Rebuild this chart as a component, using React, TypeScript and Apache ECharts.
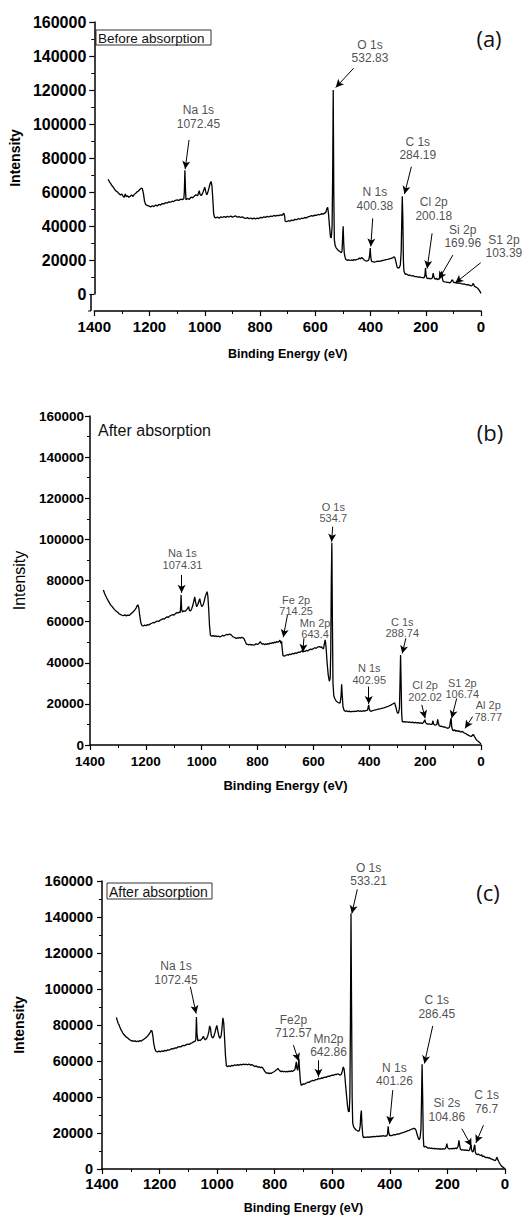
import React, { useEffect, useRef } from "react";
import * as echarts from "echarts";

// ---------- DATA ----------
const xTicks = [0, 200, 400, 600, 800, 1000, 1200, 1400];
const yTicks = [0, 20000, 40000, 60000, 80000, 100000, 120000, 140000, 160000];

// (a) Before absorption: [binding energy (eV), intensity]
const spectrumA: number[][] = [
  [1350, 67500], [1345, 66000], [1340, 64800], [1335, 63500], [1330, 62600], [1325, 61200], [1320, 60500], [1315, 59800],
  [1310, 59000], [1305, 58200], [1300, 58800], [1296, 57600], [1292, 56800], [1288, 58900], [1284, 57200], [1280, 57900],
  [1275, 56900], [1270, 57500], [1265, 58200], [1260, 57400], [1255, 58600], [1250, 59300], [1245, 60100], [1240, 60600],
  [1235, 61500], [1230, 62300], [1226, 62000], [1222, 59000], [1218, 54500], [1214, 52600], [1208, 52100], [1202, 51700],
  [1196, 51200], [1190, 51900], [1184, 51400], [1178, 52300], [1172, 51800], [1166, 52700], [1160, 52300], [1154, 53200],
  [1148, 53000], [1142, 53700], [1136, 53500], [1130, 54200], [1124, 54000], [1118, 54600], [1112, 54400], [1106, 55100],
  [1100, 55400], [1094, 55000], [1088, 55800], [1082, 55500], [1076, 55900], [1074, 60000], [1072, 72800], [1070, 62000],
  [1068, 55400], [1062, 56200], [1056, 55700], [1050, 57000], [1044, 56600], [1038, 57600], [1032, 58300], [1026, 57800],
  [1022, 59800], [1020, 60800], [1017, 58500], [1013, 57900], [1008, 59200], [1004, 61000], [1000, 62800], [997, 60500],
  [993, 58300], [989, 59800], [985, 62200], [981, 64800], [977, 66200], [974, 63500], [971, 56000], [968, 47500],
  [965, 45200], [960, 44800], [954, 45300], [948, 44600], [942, 45400], [936, 45000], [930, 45600], [924, 45100],
  [918, 45700], [912, 45300], [906, 45800], [900, 45200], [894, 45600], [888, 45900], [882, 45200], [876, 45500],
  [870, 45000], [864, 45400], [858, 44800], [852, 44400], [846, 44900], [840, 44300], [834, 44700], [828, 44200],
  [822, 44600], [816, 44100], [810, 44700], [804, 44400], [798, 45100], [792, 44800], [786, 45400], [780, 45100],
  [774, 45700], [768, 45300], [762, 45800], [756, 45600], [750, 46200], [744, 45800], [738, 46300], [732, 46100],
  [726, 46600], [720, 46300], [714, 47600], [711, 46000], [709, 42800], [704, 42500], [698, 43100], [692, 42800],
  [686, 43500], [680, 43200], [674, 43900], [668, 43700], [662, 44300], [656, 44000], [650, 44600], [644, 44400],
  [638, 45000], [632, 44800], [626, 45400], [620, 45600], [614, 46100], [608, 45800], [602, 46400], [596, 46200],
  [590, 46800], [584, 46600], [578, 47200], [572, 47000], [566, 47600], [562, 48000], [558, 50200], [555, 51000],
  [552, 47000], [548, 39000], [545, 33500], [542, 33000], [539, 40000], [537, 70000], [535, 120000], [533, 60000],
  [531, 32000], [528, 28500], [524, 27000], [520, 26200], [515, 25500], [510, 24800], [506, 24300], [503, 25500],
  [501, 33000], [499, 39800], [497, 30000], [495, 24000], [492, 21500], [489, 20300], [485, 19800], [480, 20100],
  [475, 19700], [470, 20000], [465, 19800], [460, 20200], [455, 19900], [450, 20300], [445, 20500], [440, 21200],
  [436, 20600], [432, 21500], [428, 20900], [424, 20200], [420, 19700], [415, 19400], [410, 19600], [406, 20200],
  [403, 23000], [401, 27000], [399, 21500], [396, 19200], [392, 19000], [386, 18800], [380, 19000], [374, 19300],
  [368, 19200], [362, 19500], [356, 19700], [350, 19900], [344, 20200], [338, 20400], [332, 20700], [326, 20900],
  [320, 21300], [316, 21800], [312, 21500], [308, 19000], [304, 16000], [300, 15200], [296, 15500], [292, 17000],
  [289, 25000], [286, 50000], [285, 57500], [283, 45000], [281, 20000], [279, 13500], [276, 12200], [273, 11600],
  [270, 11800], [266, 11300], [262, 11000], [258, 11200], [254, 10800], [250, 10600], [246, 10800], [242, 10400],
  [238, 10200], [234, 10300], [230, 10000], [226, 9900], [222, 10100], [218, 9800], [214, 9600], [210, 9700],
  [206, 9500], [203, 11000], [201, 15200], [199, 11000], [196, 9300], [192, 9100], [188, 9300], [184, 8900],
  [180, 9000], [176, 9500], [173, 12300], [171, 10500], [168, 9000], [164, 8700], [161, 9400], [158, 8400],
  [154, 8800], [150, 9000], [147, 11500], [144, 12600], [142, 13200], [140, 9500], [138, 7800], [135, 7300],
  [130, 7100], [126, 7000], [122, 6900], [118, 6800], [114, 6600], [110, 6800], [106, 8000], [103, 8300],
  [100, 7000], [96, 6700], [92, 6900], [88, 6400], [84, 6600], [80, 6300], [76, 6500], [72, 6100],
  [68, 6000], [64, 5800], [60, 5900], [56, 5600], [52, 5400], [48, 5500], [44, 5300], [40, 5100],
  [36, 4800], [32, 5000], [30, 5800], [28, 6200], [26, 5600], [24, 4600], [20, 4200], [16, 3800],
  [12, 3400], [8, 2600], [5, 1800], [2, 1000], [0, 400],
];

// (b) After absorption
const spectrumB: number[][] = [
  [1352, 75400], [1348, 73800], [1344, 72600], [1340, 71500], [1335, 70200], [1330, 69000], [1325, 67900], [1320, 67200],
  [1315, 66300], [1310, 65600], [1305, 64900], [1300, 64500], [1295, 63700], [1290, 63400], [1285, 63100], [1280, 62900],
  [1275, 63300], [1270, 62800], [1265, 63200], [1260, 63000], [1255, 63600], [1250, 64200], [1245, 64800], [1240, 65600],
  [1235, 66600], [1231, 67900], [1228, 68100], [1225, 66500], [1222, 63000], [1218, 59500], [1214, 58100], [1209, 57900],
  [1204, 58300], [1199, 58000], [1194, 58600], [1189, 58400], [1184, 58900], [1179, 59200], [1174, 59600], [1169, 59400],
  [1164, 60000], [1159, 60300], [1154, 60100], [1149, 60700], [1144, 61000], [1139, 61400], [1134, 61200], [1129, 61900],
  [1124, 62300], [1119, 62100], [1114, 62800], [1109, 63100], [1104, 63400], [1099, 63200], [1094, 63900], [1089, 64400],
  [1084, 64200], [1080, 64700], [1077, 64400], [1075, 68000], [1074, 73000], [1072, 66000], [1069, 64600], [1064, 65300],
  [1059, 65000], [1054, 65800], [1050, 66500], [1047, 67400], [1044, 65500], [1040, 65200], [1036, 66300], [1032, 67800],
  [1028, 70200], [1025, 72000], [1022, 69500], [1018, 67200], [1014, 68300], [1010, 70000], [1007, 71200], [1004, 69000],
  [1000, 67300], [996, 67800], [992, 69500], [988, 71800], [984, 73500], [981, 74600], [978, 72500], [975, 66000],
  [972, 58000], [969, 53500], [965, 52900], [960, 53200], [955, 52800], [950, 53100], [945, 52700], [940, 53000],
  [935, 52600], [930, 52900], [925, 53300], [920, 53000], [915, 53500], [910, 53800], [905, 53600], [900, 54000],
  [896, 53700], [892, 53200], [888, 52600], [884, 52400], [880, 52100], [876, 51800], [872, 52200], [868, 51900],
  [864, 52300], [860, 52000], [856, 52400], [852, 52100], [848, 51600], [844, 50300], [840, 49100], [836, 48900],
  [832, 48700], [828, 49000], [824, 48600], [820, 48900], [815, 48500], [810, 48800], [805, 49200], [800, 48900],
  [795, 49400], [791, 50200], [787, 49600], [783, 49000], [779, 49300], [775, 48800], [771, 49200], [767, 48900],
  [763, 49300], [759, 49100], [755, 49600], [751, 49300], [747, 49800], [743, 49500], [739, 50100], [735, 49700],
  [731, 50400], [727, 49900], [723, 50500], [720, 51000], [717, 49500], [714, 50400], [712, 47000], [709, 43500],
  [705, 43200], [700, 43500], [695, 43900], [690, 43700], [685, 44200], [680, 44000], [675, 44500], [670, 44300],
  [665, 44800], [660, 44600], [655, 45100], [650, 45000], [645, 45400], [641, 45900], [638, 45200], [634, 45700],
  [630, 45500], [625, 46000], [620, 45800], [615, 46300], [610, 46600], [605, 46400], [600, 46900], [595, 47300],
  [590, 47000], [585, 47600], [580, 47900], [576, 47500], [572, 47800], [568, 47200], [564, 46800], [561, 49000],
  [558, 51100], [555, 48000], [551, 40000], [547, 34000], [543, 31000], [540, 32500], [538, 45000], [536, 80000],
  [534, 98400], [532, 60000], [530, 30000], [527, 23800], [523, 22500], [518, 21300], [513, 20800], [508, 20400],
  [504, 20600], [501, 24000], [499, 29500], [497, 24500], [494, 18500], [490, 16800], [486, 16400], [481, 16600],
  [476, 16200], [471, 16500], [466, 16100], [461, 16400], [456, 16200], [451, 16500], [446, 16300], [441, 16700],
  [436, 16400], [431, 16600], [426, 16300], [421, 16700], [416, 16500], [411, 16800], [406, 17000], [404, 18500],
  [402, 19500], [400, 17500], [397, 16600], [393, 16400], [388, 16700], [383, 16900], [378, 17100], [373, 17200],
  [368, 17400], [363, 17600], [358, 17700], [353, 17900], [348, 18100], [343, 18300], [338, 18600], [333, 18800],
  [328, 19100], [323, 19400], [318, 19800], [313, 20200], [309, 20500], [305, 18500], [301, 16200], [298, 15400],
  [295, 15800], [292, 18000], [290, 30000], [288, 43800], [286, 30000], [284, 15000], [282, 11500], [279, 11200],
  [275, 11400], [270, 11100], [265, 11300], [260, 11000], [255, 11200], [250, 10900], [245, 11100], [240, 10800],
  [235, 11000], [230, 10700], [225, 10900], [220, 10600], [215, 10800], [210, 10500], [206, 10900], [203, 11800],
  [201, 12300], [199, 11000], [195, 10400], [191, 10200], [187, 10300], [183, 10100], [179, 10000], [175, 10200],
  [172, 11800], [170, 10200], [166, 9800], [162, 9700], [158, 10000], [155, 12500], [153, 11000], [150, 9400],
  [146, 9100], [142, 9200], [138, 8900], [134, 8700], [130, 8800], [126, 8500], [122, 8300], [118, 8100],
  [115, 8400], [112, 8900], [109, 12000], [107, 13000], [105, 9000], [102, 7200], [99, 7000], [95, 7400],
  [91, 6800], [87, 7000], [83, 6600], [79, 6900], [75, 6500], [71, 6300], [67, 6700], [63, 6100],
  [59, 5800], [55, 5600], [51, 5200], [47, 4900], [43, 4600], [39, 4300], [35, 4200], [31, 4600],
  [28, 5200], [26, 4800], [23, 4000], [20, 3400], [17, 2600], [14, 2200], [10, 1800], [6, 1300],
  [3, 900], [0, 500],
];

// (c) After absorption
const spectrumC: number[][] = [
  [1350, 84200], [1347, 82500], [1344, 81000], [1340, 79800], [1336, 78000], [1332, 76800], [1328, 75600], [1324, 74700],
  [1320, 74000], [1316, 73300], [1312, 73000], [1308, 72400], [1304, 71800], [1300, 71500], [1296, 71000], [1292, 71300],
  [1288, 70800], [1284, 71200], [1280, 70700], [1276, 71100], [1272, 70800], [1268, 71400], [1264, 71000], [1260, 71600],
  [1256, 71900], [1252, 72400], [1248, 72900], [1244, 73500], [1240, 74200], [1236, 75000], [1232, 76000], [1229, 77000],
  [1226, 76500], [1223, 73500], [1220, 69500], [1216, 66500], [1212, 65300], [1207, 65000], [1202, 65500], [1197, 65100],
  [1192, 65600], [1187, 65300], [1182, 65900], [1177, 65600], [1172, 66200], [1167, 66000], [1162, 66500], [1157, 66900],
  [1152, 66700], [1147, 67300], [1142, 67100], [1137, 67700], [1132, 68000], [1127, 67800], [1122, 68400], [1117, 68700],
  [1112, 68500], [1107, 69100], [1102, 69400], [1097, 69200], [1092, 69800], [1087, 70100], [1082, 70600], [1077, 70900],
  [1074, 72000], [1072, 84500], [1070, 75000], [1067, 71200], [1063, 71600], [1059, 71400], [1055, 72000], [1051, 72600],
  [1048, 73800], [1045, 72500], [1041, 71800], [1037, 72300], [1033, 73800], [1029, 76200], [1026, 79500], [1023, 78000],
  [1020, 74000], [1016, 72800], [1012, 73500], [1008, 75500], [1004, 78200], [1001, 79800], [998, 77000], [994, 73800],
  [990, 72600], [986, 74000], [983, 78500], [980, 84000], [977, 81000], [974, 72000], [971, 63000], [968, 57500],
  [964, 56800], [959, 57300], [954, 57000], [949, 57600], [944, 57200], [939, 57900], [934, 57500], [929, 58000],
  [924, 57600], [919, 58100], [914, 57800], [909, 58300], [904, 58000], [899, 58200], [894, 57900], [889, 58300],
  [884, 57700], [879, 58000], [874, 57400], [869, 57000], [864, 57200], [859, 56600], [854, 56800], [849, 56300],
  [844, 56600], [840, 55800], [836, 54600], [832, 53800], [828, 53200], [824, 53400], [820, 53000], [816, 53300],
  [812, 53100], [808, 53600], [804, 53900], [800, 54300], [796, 54800], [792, 55300], [789, 55900], [786, 55200],
  [782, 54500], [778, 54100], [774, 54400], [770, 54000], [766, 54300], [762, 53900], [758, 54200], [754, 54000],
  [750, 54400], [746, 54100], [742, 54500], [738, 54200], [734, 54700], [730, 55200], [727, 57500], [725, 59500],
  [723, 56000], [720, 54800], [718, 58000], [716, 61400], [714, 56000], [711, 49000], [708, 46500], [704, 46900],
  [700, 47300], [696, 47100], [692, 47700], [688, 47900], [684, 48300], [680, 48100], [676, 48700], [672, 48900],
  [668, 49200], [664, 49000], [660, 49500], [656, 49700], [652, 49600], [648, 50500], [645, 50000], [641, 50200],
  [637, 50600], [633, 50400], [629, 50900], [625, 51100], [621, 50900], [617, 51400], [613, 51600], [609, 51500],
  [605, 51900], [601, 52100], [597, 52000], [593, 52400], [589, 52600], [585, 52500], [581, 52900], [577, 52600],
  [573, 52100], [569, 52500], [565, 54500], [562, 56700], [559, 55500], [556, 51000], [553, 45000], [550, 40000],
  [547, 35000], [544, 32000], [541, 31800], [539, 40000], [537, 80000], [535, 142000], [533, 90000], [531, 40000],
  [529, 25500], [526, 23500], [522, 22500], [518, 21800], [514, 21400], [510, 21000], [506, 21300], [503, 24000],
  [501, 30000], [499, 32500], [497, 25000], [494, 18500], [491, 17400], [487, 17700], [483, 17500], [479, 17800],
  [475, 17600], [471, 17900], [467, 17700], [463, 18000], [459, 17800], [455, 18100], [451, 17900], [447, 18200],
  [443, 18000], [439, 18300], [435, 18100], [431, 18400], [427, 18200], [423, 18500], [419, 18300], [415, 18400],
  [411, 18300], [408, 19500], [406, 23700], [404, 20500], [401, 18600], [397, 18700], [393, 18500], [389, 18900],
  [385, 19100], [381, 19000], [377, 19300], [373, 19500], [369, 19400], [365, 19700], [361, 19900], [357, 20100],
  [353, 20300], [349, 20500], [345, 20800], [341, 21000], [337, 21300], [333, 21500], [329, 21800], [325, 22100],
  [321, 22300], [317, 22600], [313, 22400], [309, 21500], [305, 19000], [301, 17000], [298, 16300], [295, 17500],
  [292, 22000], [290, 38000], [288, 58200], [286, 40000], [284, 18000], [282, 12500], [279, 12200], [275, 12600],
  [271, 11900], [267, 11600], [263, 11800], [259, 11400], [255, 11600], [251, 11300], [247, 11500], [243, 11200],
  [239, 11400], [235, 11100], [231, 11300], [227, 11000], [223, 11200], [219, 11100], [215, 11300], [211, 11000],
  [207, 11400], [204, 12500], [202, 14100], [200, 12000], [196, 11300], [192, 11100], [188, 11400], [184, 11200],
  [180, 11500], [176, 11300], [172, 11600], [169, 11200], [166, 11800], [163, 12500], [160, 15900], [158, 13500],
  [155, 11000], [151, 10500], [147, 10700], [143, 10400], [139, 10600], [135, 10300], [131, 10500], [127, 10100],
  [123, 10600], [120, 12500], [118, 13200], [116, 10500], [113, 9400], [110, 9800], [107, 12500], [105, 13500],
  [103, 9500], [100, 8200], [96, 8000], [92, 8300], [88, 7700], [84, 7500], [81, 7900], [78, 6800],
  [74, 7200], [70, 6600], [66, 6300], [62, 6500], [58, 6100], [54, 6300], [50, 5700], [46, 5500],
  [42, 5200], [38, 4900], [34, 4700], [31, 5200], [29, 6500], [27, 6200], [25, 5200], [22, 4200],
  [19, 3300], [16, 2500], [13, 1800], [10, 1300], [6, 900], [3, 500], [0, 200],
];

// Peak annotations: label, label anchor (data coords), arrow start, arrow tip
type Ann = { label: string; text: number[]; from: number[]; to: number[] };
const annotationsA: Ann[] = [
  { label: "Na 1s\n1072.45", text: [1023, 104100], from: [1057, 90600], to: [1071, 73500] },
  { label: "O 1s\n532.83", text: [402, 142600], from: [461, 132800], to: [526, 121500] },
  { label: "N 1s\n400.38", text: [384, 55900], from: [392, 44500], to: [399, 28000] },
  { label: "C 1s\n284.19", text: [229, 85500], from: [252, 74900], to: [277, 58800] },
  { label: "Cl 2p\n200.18", text: [171, 50000], from: [177, 35700], to: [195, 15000] },
  { label: "Si 2p\n169.96", text: [66, 33900], from: [102, 22900], to: [153, 8500] },
  { label: "S1 2p\n103.39", text: [-83, 28000], from: [1, 18400], to: [93, 6500] },
];
const annotationsB: Ann[] = [
  { label: "Na 1s\n1074.31", text: [1069, 90450], from: [1072, 82700], to: [1072, 74000] },
  { label: "Fe 2p\n714.25", text: [662, 67900], from: [693, 63200], to: [708, 52400] },
  { label: "Mn 2p\n643.4", text: [594, 56700], from: [634, 51900], to: [638, 45200] },
  { label: "O 1s\n534.7", text: [529, 113000], from: [531, 106200], to: [535, 98800] },
  { label: "N 1s\n402.95", text: [400, 34500], from: [402, 28400], to: [402, 20000] },
  { label: "C 1s\n288.74", text: [282, 57200], from: [269, 51900], to: [282, 44500] },
  { label: "Cl 2p\n202.02", text: [200, 26300], from: [212, 19500], to: [200, 13000] },
  { label: "S1 2p\n106.74", text: [67, 27400], from: [87, 22700], to: [105, 13000] },
  { label: "Al 2p\n78.77", text: [-26, 16500], from: [30, 13800], to: [57, 8100] },
];
const annotationsC: Ann[] = [
  { label: "Na 1s\n1072.45", text: [1143, 109000], from: [1093, 101200], to: [1073, 86400] },
  { label: "Fe2p\n712.57", text: [735, 79200], from: [735, 68800], to: [717, 60000] },
  { label: "Mn2p\n642.86", text: [613, 68600], from: [648, 60400], to: [648, 51200] },
  { label: "O 1s\n533.21", text: [474, 163700], from: [513, 155400], to: [532, 142000] },
  { label: "N 1s\n401.26", text: [384, 52500], from: [390, 43800], to: [401, 25000] },
  { label: "C 1s\n286.45", text: [237, 90100], from: [251, 79500], to: [280, 58600] },
  { label: "Si 2s\n104.86", text: [202, 32800], from: [150, 22400], to: [116, 12600] },
  { label: "C 1s\n76.7", text: [64, 37300], from: [75, 24300], to: [101, 14500] },
];

const panelTags = ["(a)", "(b)", "(c)"];
const panelNotes = ["Before absorption", "After absorption", "After absorption"];

// ---------- LAYOUT / STYLE ----------
const FONT = "Liberation Sans";
const panels = [
  {
    spectrum: spectrumA, ann: annotationsA,
    grid: { left: 91, right: 42, top: 22, height: 272 },
    yLabel: 16, xLabel: 15, yMargin: 8, xMargin: 8, xOffset: 17,
    yName: { gap: 66, size: 14, weight: "bold" }, xName: { gap: 36, size: 12.5 },
    annSize: 12, annLH: 13.5,
  },
  {
    spectrum: spectrumB, ann: annotationsB,
    grid: { left: 90, right: 42, top: 416, height: 329 },
    yLabel: 13.5, xLabel: 13.5, yMargin: 6, xMargin: 9, xOffset: 0,
    yName: { gap: 63, size: 16, weight: "normal" }, xName: { gap: 34, size: 13 },
    annSize: 11, annLH: 11.5,
  },
  {
    spectrum: spectrumC, ann: annotationsC,
    grid: { left: 102, right: 18, top: 881, height: 288 },
    yLabel: 14.5, xLabel: 15, yMargin: 9, xMargin: 7, xOffset: 0,
    yName: { gap: 76, size: 14, weight: "bold" }, xName: { gap: 32, size: 12.5 },
    annSize: 12, annLH: 13.5,
  },
];

const plain = (v: number) => String(v);

export default function App() {
  const ref = useRef<HTMLDivElement>(null);
  useEffect(() => {
    if (!ref.current) return;
    const chart = echarts.init(ref.current, null, { renderer: "svg" });
    const grids: any[] = [];
    const xAxes: any[] = [];
    const yAxes: any[] = [];
    const series: any[] = [];
    panels.forEach((p, i) => {
      grids.push({ ...p.grid, containLabel: false });
      xAxes.push({
        gridIndex: i, type: "value", inverse: true, min: xTicks[0], max: xTicks[xTicks.length - 1],
        interval: xTicks[1] - xTicks[0], offset: p.xOffset,
        axisLine: { show: true, onZero: false, lineStyle: { color: "#000", width: 1.5 } },
        axisTick: { show: true, length: 5, lineStyle: { color: "#000", width: 1.2 } },
        minorTick: { show: true, splitNumber: 2, length: 3, lineStyle: { color: "#000", width: 1 } },
        splitLine: { show: false }, minorSplitLine: { show: false },
        axisLabel: { formatter: plain, fontFamily: FONT, fontWeight: "bold", fontSize: p.xLabel, color: "#000", margin: p.xMargin },
        name: "Binding Energy (eV)", nameLocation: "middle", nameGap: p.xName.gap,
        nameTextStyle: { fontFamily: FONT, fontWeight: "bold", fontSize: p.xName.size, color: "#000" },
      });
      yAxes.push({
        gridIndex: i, type: "value", min: yTicks[0], max: yTicks[yTicks.length - 1], interval: yTicks[1] - yTicks[0],
        axisLine: { show: true, onZero: false, lineStyle: { color: "#000", width: 1.5 } },
        axisTick: { show: true, length: 5, lineStyle: { color: "#000", width: 1.2 } },
        minorTick: { show: true, splitNumber: 2, length: 3, lineStyle: { color: "#000", width: 1 } },
        splitLine: { show: false }, minorSplitLine: { show: false },
        axisLabel: { formatter: plain, fontFamily: FONT, fontWeight: "bold", fontSize: p.yLabel, color: "#000", margin: p.yMargin },
        name: "Intensity", nameLocation: "middle", nameGap: p.yName.gap,
        nameTextStyle: { fontFamily: FONT, fontWeight: p.yName.weight, fontSize: p.yName.size, color: "#000" },
      });
      series.push({
        type: "line", xAxisIndex: i, yAxisIndex: i, data: p.spectrum, showSymbol: false, symbol: "none",
        lineStyle: { color: "#000", width: 1.3 }, silent: true,
        markLine: {
          silent: true, symbol: ["none", "arrow"], symbolSize: [6, 8],
          lineStyle: { color: "#000", width: 1, type: "solid" }, label: { show: false },
          emphasis: { disabled: true },
          data: p.ann.map((a) => [{ coord: a.from }, { coord: a.to }]),
        },
      });
      series.push({
        type: "scatter", xAxisIndex: i, yAxisIndex: i, clip: false, silent: true,
        symbolSize: 0, itemStyle: { color: "rgba(0,0,0,0)" },
        data: p.ann.map((a) => ({ value: a.text, name: a.label })),
        label: {
          show: true, position: "inside", formatter: "{b}", align: "center", verticalAlign: "middle",
          fontFamily: FONT, fontSize: p.annSize, lineHeight: p.annLH, color: "#222",
        },
      });
    });

    const graphic: any[] = [
      { type: "line", shape: { x1: 91, y1: 294, x2: 91, y2: 311 }, style: { stroke: "#000", lineWidth: 1.5 } },
      { type: "line", shape: { x1: 88, y1: 311, x2: 91, y2: 311 }, style: { stroke: "#000", lineWidth: 1 } },
      // panel tags
      { type: "text", x: 489, y: 38, style: { text: panelTags[0], font: "22px 'Open Sans'", fill: "#111", align: "center", verticalAlign: "middle" } },
      { type: "text", x: 490, y: 432, style: { text: panelTags[1], font: "22px 'Open Sans'", fill: "#111", align: "center", verticalAlign: "middle" } },
      { type: "text", x: 488, y: 892, style: { text: panelTags[2], font: "22px 'Open Sans'", fill: "#111", align: "center", verticalAlign: "middle" } },
      // notes
      { type: "rect", shape: { x: 96, y: 30, width: 115, height: 15 }, style: { fill: "#fff", stroke: "#333", lineWidth: 1 } },
      { type: "text", x: 98, y: 38, style: { text: panelNotes[0], font: "13.5px 'Liberation Sans'", fill: "#111", verticalAlign: "middle" } },
      { type: "text", x: 98, y: 430, style: { text: panelNotes[1], font: "16px 'Liberation Sans'", fill: "#111", verticalAlign: "middle" } },
      { type: "rect", shape: { x: 107, y: 883, width: 105, height: 16 }, style: { fill: "#fff", stroke: "#333", lineWidth: 1 } },
      { type: "text", x: 109, y: 891.5, style: { text: panelNotes[2], font: "14px 'Liberation Sans'", fill: "#111", verticalAlign: "middle" } },
    ];

    chart.setOption({
      animation: false,
      backgroundColor: "#fff",
      grid: grids, xAxis: xAxes, yAxis: yAxes, series, graphic,
    });
    return () => chart.dispose();
  }, []);
  return <div ref={ref} style={{ position: "absolute", left: 0, top: 0, width: 523, height: 1216 }} />;
}
